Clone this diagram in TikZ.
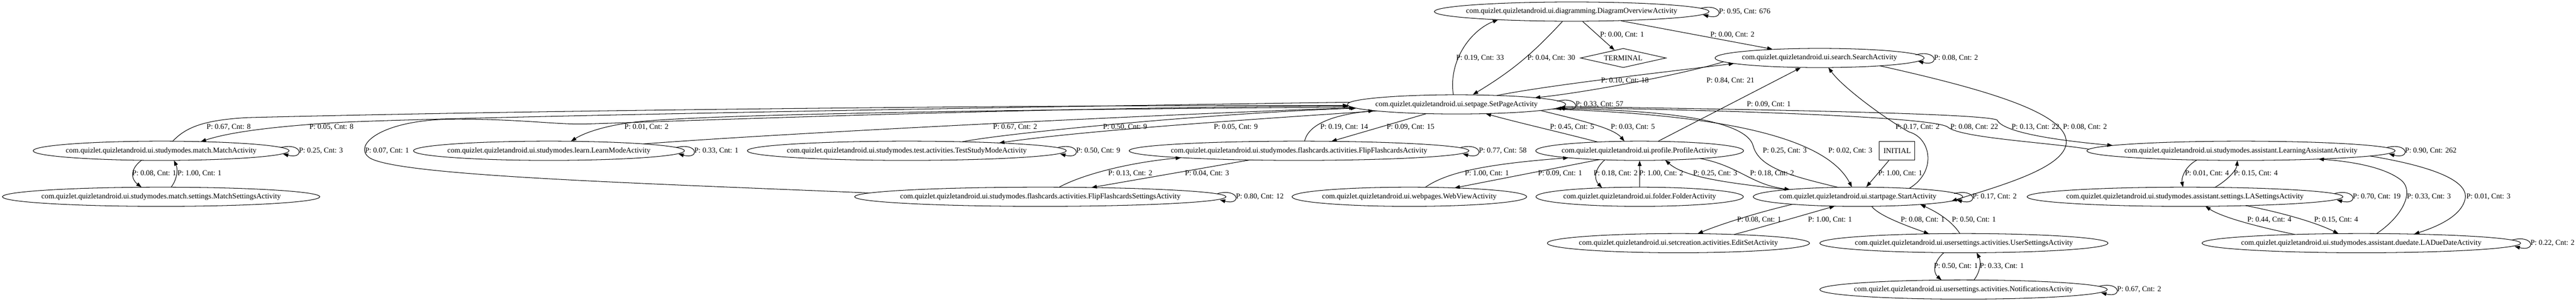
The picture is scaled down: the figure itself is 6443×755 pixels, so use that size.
\documentclass[tikz,border=0pt]{standalone}
\usepackage{fontspec}
\setmainfont{Liberation Serif}
\usetikzlibrary{calc, shapes.geometric, arrows.meta}
\tikzset{act/.style={draw, ellipse, line width=1pt, inner sep=0pt, minimum height=36pt, minimum width=#1}}
\tikzset{edge/.style={line width=1pt, -{Triangle[length=10pt, width=7pt]}}}
\tikzset{lbl/.style={inner sep=1pt}}
\tikzset{selfloop/.style={to path={($(\tikztostart.east)+(-22,-8)$) .. controls +(55,-14) and +(55,14) .. ($(\tikztostart.east)+(-16,8)$) \tikztonodes}}}

\begin{document}
\begin{tikzpicture}[x=0.75pt, y=-0.75pt, font=\fontsize{14}{16}\selectfont]%{{{
        \path [use as bounding box, fill=white] (0,0) rectangle (6443,755);

        \node [act=515.25pt] (diag) at (3931, 29) {\makebox[0pt]{com.quizlet.quizletandroid.ui.diagramming.DiagramOverviewActivity}};
        \node [draw, diamond, line width=1pt, inner sep=0pt, aspect=4.46, minimum width=160.5pt, minimum height=36pt] (terminal) at (4060, 145) {\makebox[0pt]{TERMINAL}};
        \node [act=392.25pt] (search) at (4551, 145) {\makebox[0pt]{com.quizlet.quizletandroid.ui.search.SearchActivity}};
        \node [act=409.5pt] (setpage) at (3643, 261) {\makebox[0pt]{com.quizlet.quizletandroid.ui.setpage.SetPageActivity}};

        \node [act=480pt] (match) at (403, 377) {\makebox[0pt]{com.quizlet.quizletandroid.ui.studymodes.match.MatchActivity}};
        \node [act=508.5pt] (learn) at (1373, 377) {\makebox[0pt]{com.quizlet.quizletandroid.ui.studymodes.learn.LearnModeActivity}};
        \node [act=598.5pt] (test) at (2268, 377) {\makebox[0pt]{com.quizlet.quizletandroid.ui.studymodes.test.activities.TestStudyModeActivity}};
        \node [act=637.5pt] (flip) at (3249, 377) {\makebox[0pt]{com.quizlet.quizletandroid.ui.studymodes.flashcards.activities.FlipFlashcardsActivity}};
        \node [act=390pt] (profile) at (4101, 377) {\makebox[0pt]{com.quizlet.quizletandroid.ui.profile.ProfileActivity}};
        \node [draw, rectangle, line width=1pt, minimum width=66.75pt, minimum height=35.25pt] (initial) at (4745, 377) {INITIAL};
        \node [act=578.25pt] (la) at (5605, 377) {\makebox[0pt]{com.quizlet.quizletandroid.ui.studymodes.assistant.LearningAssistantActivity}};

        \node [act=595.5pt] (matchset) at (403, 492) {\makebox[0pt]{com.quizlet.quizletandroid.ui.studymodes.match.settings.MatchSettingsActivity}};
        \node [act=696.75pt] (flipset) at (2602, 492) {\makebox[0pt]{com.quizlet.quizletandroid.ui.studymodes.flashcards.activities.FlipFlashcardsSettingsActivity}};
        \node [act=440.25pt] (webview) at (3525, 492) {\makebox[0pt]{com.quizlet.quizletandroid.ui.webpages.WebViewActivity}};
        \node [act=389.25pt] (folder) at (4101, 492) {\makebox[0pt]{com.quizlet.quizletandroid.ui.folder.FolderActivity}};
        \node [act=393pt] (start) at (4647, 492) {\makebox[0pt]{com.quizlet.quizletandroid.ui.startpage.StartActivity}};
        \node [act=592.5pt] (lasettings) at (5465, 492) {\makebox[0pt]{com.quizlet.quizletandroid.ui.studymodes.assistant.settings.LASettingsActivity}};

        \node [act=492pt] (editset) at (4198, 608) {\makebox[0pt]{com.quizlet.quizletandroid.ui.setcreation.activities.EditSetActivity}};
        \node [act=540.75pt] (usersettings) at (4912, 608) {\makebox[0pt]{com.quizlet.quizletandroid.ui.usersettings.activities.UserSettingsActivity}};
        \node [act=597.75pt] (laduedate) at (5906, 608) {\makebox[0pt]{com.quizlet.quizletandroid.ui.studymodes.assistant.duedate.LADueDateActivity}};
        \node [act=539.25pt] (notifications) at (4911, 724) {\makebox[0pt]{com.quizlet.quizletandroid.ui.usersettings.activities.NotificationsActivity}};

        % diagramming, search
        \draw [edge] (diag) to [selfloop] node [lbl, right] {P: 0.95, Cnt: 676} (diag);
        \draw [edge] (diag) -- (terminal) node [lbl] at (4057, 87) {P: 0.00, Cnt: 1};
        \draw [edge] (diag) -- (search) node [lbl] at (4333, 87) {P: 0.00, Cnt: 2};
        \draw [edge] (diag) to [bend left=8] (setpage) node [lbl] at (3880, 145) {P: 0.04, Cnt: 30};
        \draw [edge] ($(setpage)+(-8,-24)$) .. controls (3622,150) and (3680,75) .. ($(diag)+(-184,20.3)$) node [lbl] at (3702, 145) {P: 0.19, Cnt: 33};
        \draw [edge] ($(setpage)+(101,-22.3)$) .. controls (3880,212) and (4150,182) .. ($(search)+(-214,13.8)$) node [lbl] at (4064, 202) {P: 0.10, Cnt: 18};
        \draw [edge] ($(search)+(-240,9.5)$) .. controls (4200,188) and (3960,232) .. ($(setpage)+(196,-16.7)$) node [lbl] at (4328, 202) {P: 0.84, Cnt: 21};
        \draw [edge] (search) to [selfloop] node [lbl, right] {P: 0.08, Cnt: 2} (search);
        \draw [edge] (profile) -- (search) node [lbl] at (4424, 261) {P: 0.09, Cnt: 1};
        \draw [edge] ($(start)+(128,-20.9)$) .. controls (4845,430) and (4830,345) .. (4775,330) .. controls (4720,300) and (4610,220) .. ($(search)+(22,23.9)$) node [lbl] at (4796, 318) {P: 0.17, Cnt: 2};
        \draw [edge] ($(search)+(151,19.6)$) .. controls (4950,220) and (5170,280) .. (5168,356) .. controls (5166,420) and (5000,465) .. ($(start)+(234,10.8)$) node [lbl] at (5215, 318) {P: 0.08, Cnt: 2};

        % set page
        \draw [edge] (setpage) to [selfloop] node [lbl, right] {P: 0.33, Cnt: 57} (setpage);
        \draw [edge] ($(setpage)+(210,15.3)$) .. controls (3950,300) and (4035,320) .. ($(profile)+(-38,-23.7)$) node [lbl] at (4084, 318) {P: 0.03, Cnt: 5};
        \draw [edge] ($(profile)+(-105,-22)$) .. controls (3900,330) and (3790,305) .. ($(setpage)+(73,23.1)$) node [lbl] at (3932, 318) {P: 0.45, Cnt: 5};
        \draw [edge] ($(start)+(-50,-23.6)$) .. controls (4480,440) and (4400,420) .. (4385,365) .. controls (4365,290) and (4100,275) .. ($(setpage)+(248,10)$) node [lbl] at (4464, 377) {P: 0.25, Cnt: 3};
        \draw [edge] ($(setpage)+(238,11.75)$) .. controls (4250,285) and (4560,330) .. ($(start)+(-15,-23.9)$) node [lbl] at (4628, 377) {P: 0.02, Cnt: 3};
        \draw [edge] ($(setpage)+(266,5.4)$) .. controls (4500,275) and (4960,285) .. (4995,300) .. controls (5005,322) and (5080,345) .. ($(la)+(-321,-13.3)$) node [lbl] at (5091, 318) {P: 0.13, Cnt: 22};
        \draw [edge] ($(la)+(-380,-4)$) .. controls (5120,356) and (4905,345) .. (4872,318) .. controls (4840,292) and (4300,275) .. ($(setpage)+(258,7.8)$) node [lbl] at (4938, 318) {P: 0.08, Cnt: 22};

        % match, learn, test
        \draw [edge] ($(setpage)+(-266,-5.4)$) .. controls (2500,268) and (1150,292) .. (850,306) .. controls (650,318) and (560,335) .. ($(match)+(99,-22.8)$) node [lbl] at (829, 318) {P: 0.05, Cnt: 8};
        \draw [edge] ($(match)+(29,-23.9)$) .. controls (465,318) and (510,300) .. (620,294) .. controls (1500,272) and (2800,262) .. ($(setpage)+(-271,2.9)$) node [lbl] at (572, 318) {P: 0.67, Cnt: 8};
        \draw [edge] (match) to [selfloop] node [lbl, right] {P: 0.25, Cnt: 3} (match);
        \draw [edge] ($(match)+(-49,23.7)$) .. controls (322,425) and (330,450) .. ($(matchset)+(-49,-23.8)$) node [lbl] at (386, 434) {P: 0.08, Cnt: 1};
        \draw [edge] ($(matchset)+(25,-23.95)$) .. controls (442,450) and (446,425) .. ($(match)+(32,23.9)$) node [lbl] at (499, 434) {P: 1.00, Cnt: 1};
        \draw [edge] ($(setpage)+(-262,6.7)$) .. controls (2800,272) and (1800,282) .. (1590,305) .. controls (1520,313) and (1465,330) .. ($(learn)+(55,-23.7)$) node [lbl] at (1617, 318) {P: 0.01, Cnt: 2};
        \draw [edge] ($(learn)+(237,-17.2)$) .. controls (2000,330) and (3000,282) .. ($(setpage)+(-255,8.6)$) node [lbl] at (2539, 318) {P: 0.67, Cnt: 2};
        \draw [edge] (learn) to [selfloop] node [lbl, right] {P: 0.33, Cnt: 1} (learn);
        \draw [edge] ($(test)+(139,-22.5)$) .. controls (2500,335) and (3000,285) .. ($(setpage)+(-251,9.4)$) node [lbl] at (2814, 318) {P: 0.50, Cnt: 9};
        \draw [edge] ($(setpage)+(-198,16.5)$) .. controls (3100,300) and (2700,328) .. ($(test)+(231,-19.6)$) node [lbl] at (3091, 318) {P: 0.05, Cnt: 9};
        \draw [edge] (test) to [selfloop] node [lbl, right] {P: 0.50, Cnt: 9} (test);

        % flashcards
        \draw [edge] ($(flip)+(14,-23.9)$) .. controls (3272,312) and (3330,288) .. ($(setpage)+(-207,15.6)$) node [lbl] at (3362, 318) {P: 0.19, Cnt: 14};
        \draw [edge] ($(setpage)+(-75,23.1)$) -- ($(flip)+(81,-23.6)$) node [lbl] at (3528, 318) {P: 0.09, Cnt: 15};
        \draw [edge] (flip) to [selfloop] node [lbl, right] {P: 0.77, Cnt: 58} (flip);
        \draw [edge] ($(flip)+(-123,23)$) -- ($(flipset)+(128,-23.1)$) node [lbl] at (3019, 434) {P: 0.04, Cnt: 3};
        \draw [edge] ($(flipset)+(47,-23.9)$) .. controls (2700,440) and (2810,408) .. ($(flip)+(-295,17.3)$) node [lbl] at (2827, 434) {P: 0.13, Cnt: 2};
        \draw [edge] (flipset) to [selfloop] node [lbl, right] {P: 0.80, Cnt: 12} (flipset);
        \draw [edge] ($(flipset)+(-427,-9.5)$) .. controls (1600,458) and (1000,440) .. (925,395) .. controls (880,365) and (950,300) .. (1130,298) .. controls (1300,297) and (1390,312) .. (1465,310) .. controls (1700,303) and (2600,268) .. ($(setpage)+(-269,4.1)$) node [lbl] at (968, 377) {P: 0.07, Cnt: 1};

        % profile, folder, web view
        \draw [edge] ($(profile)+(-101,22.1)$) -- ($(webview)+(113,-22.15)$) node [lbl] at (3902, 434) {P: 0.09, Cnt: 1};
        \draw [edge] ($(webview)+(40,-23.8)$) .. controls (3620,430) and (3720,410) .. ($(profile)+(-178,17.5)$) node [lbl] at (3719, 434) {P: 1.00, Cnt: 1};
        \draw [edge] ($(profile)+(-87,22.6)$) .. controls (3985,425) and (3988,450) .. ($(folder)+(-94,-22.4)$) node [lbl] at (4041, 434) {P: 0.18, Cnt: 2};
        \draw [edge] (folder) -- (profile) node [lbl] at (4155, 434) {P: 1.00, Cnt: 2};
        \draw [edge] ($(start)+(-177,-17.7)$) .. controls (4330,458) and (4215,445) .. ($(profile)+(64,23.3)$) node [lbl] at (4290, 434) {P: 0.25, Cnt: 3};
        \draw [edge] ($(profile)+(152,19.5)$) .. controls (4350,415) and (4380,462) .. ($(start)+(-170,-18.3)$) node [lbl] at (4432, 434) {P: 0.18, Cnt: 2};

        % start page
        \draw [edge] (initial) -- (start) node [lbl] at (4753, 434) {P: 1.00, Cnt: 1};
        \draw [edge] (start) to [selfloop] node [lbl, right] {P: 0.17, Cnt: 2} (start);
        \draw [edge] ($(start)+(-163,18.8)$) .. controls (4400,530) and (4305,560) .. ($(editset)+(48,-23.7)$) node [lbl] at (4400, 550) {P: 0.08, Cnt: 1};
        \draw [edge] ($(editset)+(139,-21.7)$) .. controls (4400,570) and (4520,535) .. ($(start)+(-58,23.4)$) node [lbl] at (4577, 550) {P: 1.00, Cnt: 1};
        \draw [edge] ($(start)+(34,23.8)$) .. controls (4700,540) and (4770,565) .. ($(usersettings)+(-87,-23.3)$) node [lbl] at (4809, 550) {P: 0.08, Cnt: 1};
        \draw [edge] ($(usersettings)+(-10,-23.99)$) .. controls (4880,550) and (4840,528) .. ($(start)+(156,19.3)$) node [lbl] at (4937, 550) {P: 0.50, Cnt: 1};
        \draw [edge] ($(usersettings)+(-50,23.8)$) .. controls (4835,655) and (4835,682) .. ($(notifications)+(-55,-23.7)$) node [lbl] at (4892, 666) {P: 0.50, Cnt: 1};
        \draw [edge] ($(notifications)+(26,-23.9)$) .. controls (4952,682) and (4956,655) .. ($(usersettings)+(32,23.9)$) node [lbl] at (5007, 666) {P: 0.33, Cnt: 1};
        \draw [edge] (notifications) to [selfloop] node [lbl, right] {P: 0.67, Cnt: 2} (notifications);

        % learning assistant
        \draw [edge] (la) to [selfloop] node [lbl, right] {P: 0.90, Cnt: 262} (la);
        \draw [edge] ($(la)+(-110,23)$) .. controls (5462,418) and (5456,448) .. ($(lasettings)+(-5,-24)$) node [lbl] at (5520, 434) {P: 0.01, Cnt: 4};
        \draw [edge] ($(lasettings)+(75,-23.56)$) .. controls (5572,450) and (5594,425) .. ($(la)+(-9,24)$) node [lbl] at (5642, 434) {P: 0.15, Cnt: 4};
        \draw [edge] (lasettings) to [selfloop] node [lbl, right] {P: 0.70, Cnt: 19} (lasettings);
        \draw [edge] ($(laduedate)+(-166,-21.8)$) .. controls (5660,570) and (5560,545) .. ($(lasettings)+(51,23.8)$) node [lbl] at (5676, 550) {P: 0.44, Cnt: 4};
        \draw [edge] ($(lasettings)+(152,22.15)$) .. controls (5700,530) and (5790,555) .. ($(laduedate)+(-57,-23.75)$) node [lbl] at (5843, 550) {P: 0.15, Cnt: 4};
        \draw [edge] ($(laduedate)+(38,-23.7)$) .. controls (6010,540) and (6040,478) .. (6005,450) .. controls (5960,415) and (5870,403) .. ($(la)+(194,20.7)$) node [lbl] at (6075, 492) {P: 0.33, Cnt: 3};
        \draw [edge] ($(la)+(323,13.1)$) .. controls (6095,418) and (6178,455) .. (6165,500) .. controls (6153,545) and (6085,570) .. ($(laduedate)+(132,-22.6)$) node [lbl] at (6224, 492) {P: 0.01, Cnt: 3};
        \draw [edge] (laduedate) to [selfloop] node [lbl, right] {P: 0.22, Cnt: 2} (laduedate);
    \end{tikzpicture}
\end{document}
